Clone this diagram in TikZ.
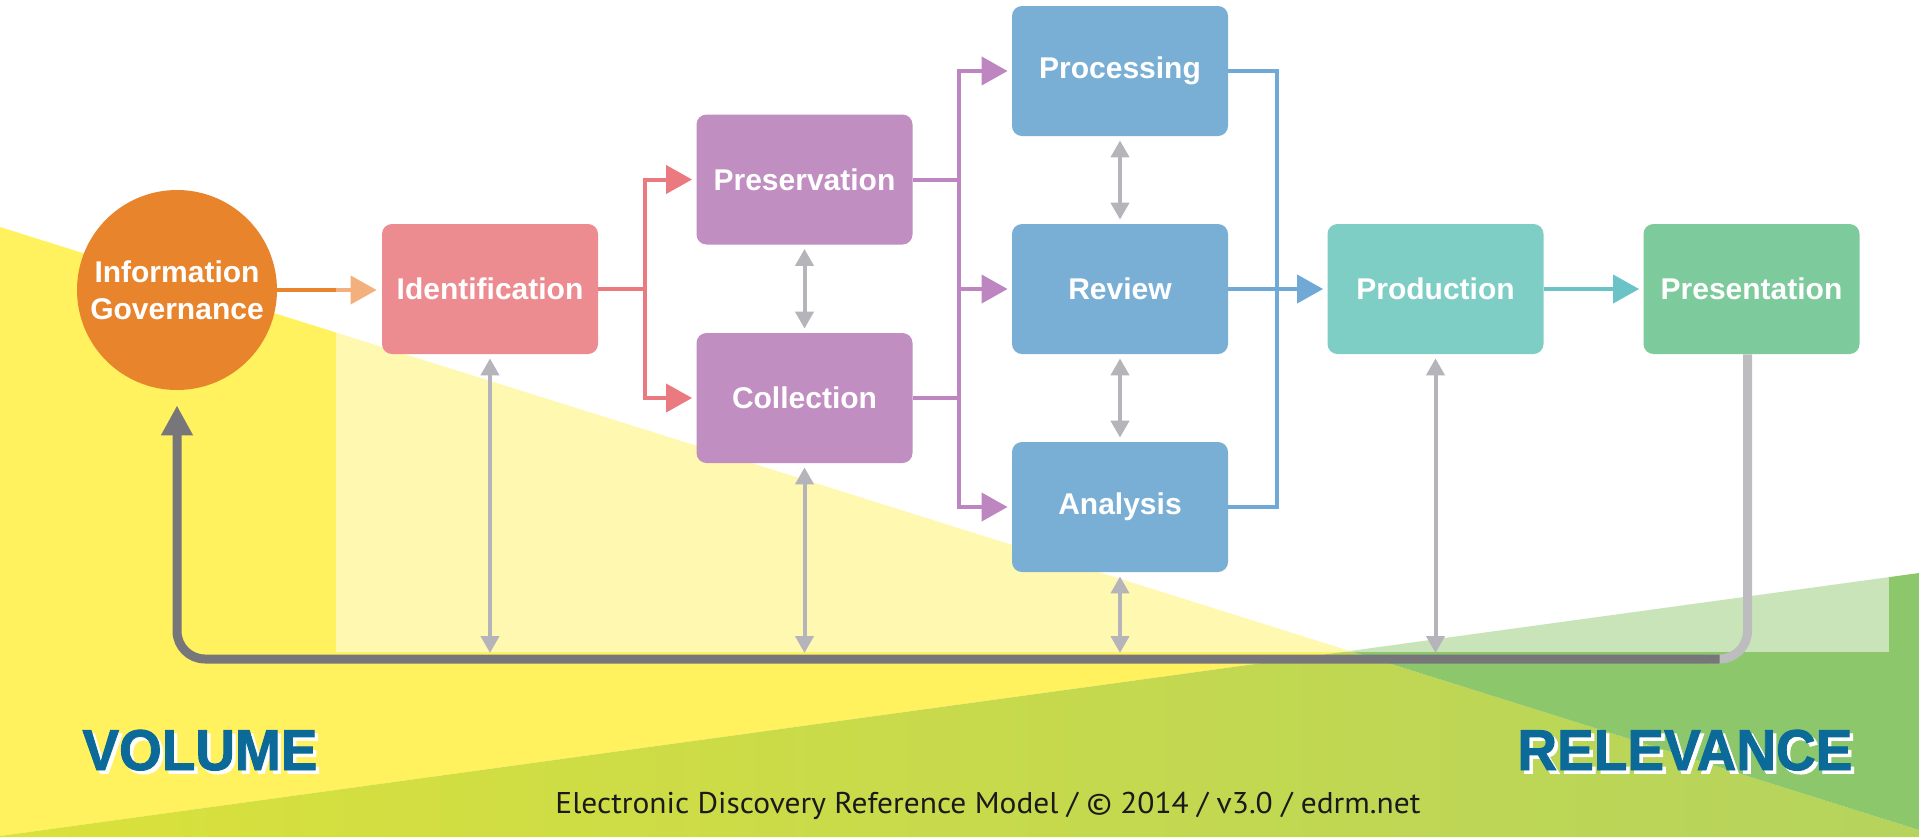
\documentclass[tikz,border=0pt]{standalone}
\usepackage{fontspec}
\setmainfont{Liberation Sans}
\newfontfamily\footfont{PT Sans}
\newfontfamily\heavyfont[BoldFeatures={FakeBold=1.6}]{Liberation Sans}
\usetikzlibrary{arrows.meta,calc}
\definecolor{orng}{HTML}{E8842C}
\definecolor{peach}{HTML}{F3B07C}
\definecolor{idc}{HTML}{EC8B90}
\definecolor{pinkc}{HTML}{EA7A80}
\definecolor{purp}{HTML}{C08EC0}
\definecolor{purpc}{HTML}{BE86C1}
\definecolor{blu}{HTML}{7AAFD5}
\definecolor{bluc}{HTML}{70A8D6}
\definecolor{tea}{HTML}{7ECEC5}
\definecolor{tealc}{HTML}{6BC3C7}
\definecolor{grnbox}{HTML}{7DCA9C}
\definecolor{grayA}{HTML}{B5B4BA}
\definecolor{loopD}{HTML}{77777B}
\definecolor{loopL}{HTML}{BDBDBF}
\definecolor{yel}{HTML}{FFF25E}
\definecolor{limeL}{HTML}{DAE13A}
\definecolor{limeR}{HTML}{B5D35D}
\definecolor{grn2}{HTML}{8DC76C}
\definecolor{vblue}{HTML}{0B6A98}
\definecolor{foot}{HTML}{1A1A1A}
\begin{document}
\begin{tikzpicture}[x=0.5pt,y=-0.5pt,
  stagebox/.style={rounded corners=5pt, minimum width=108pt, minimum height=65pt, inner sep=0pt,
    text=white, font=\fontsize{15pt}{18pt}\selectfont\bfseries},
  conn/.style={line width=2pt},
  headarrow/.style={-{Triangle[length=13pt,width=14pt]}, shorten >=2pt},
  gdbl/.style={draw=grayA, line width=2pt, {Triangle[length=8.5pt,width=9pt]}-{Triangle[length=8.5pt,width=9pt]}, shorten <=2pt, shorten >=2pt},
  looplight/.style={draw=loopL, line width=4.5pt},
  loopdark/.style={draw=loopD, line width=4.5pt},
  bigword/.style={anchor=base west, inner sep=0pt, font=\heavyfont\fontsize{28.8pt}{30pt}\selectfont\bfseries}
]
\useasboundingbox (0,0) rectangle (1919,837);
% background
\fill[white] (0,0) rectangle (1919,837);
\fill[yel] (0,227) -- (1350,651) -- (0,836) -- cycle;
\shade[left color=limeL, right color=limeR] (0,836) -- (1350,651) -- (1919,830) -- (1919,837) -- (0,837) -- cycle;
\fill[grn2] (1350,651) -- (1919,573) -- (1919,830) -- cycle;
\fill[white, opacity=0.52] (336,0) rectangle (1889,652);

% nodes
\node[circle, fill=orng, minimum size=100pt, inner sep=0pt, text=white, align=center,
  font=\fontsize{15pt}{18.5pt}\selectfont\bfseries] (ig) at (177,290) {Information\\Governance};
\node[stagebox, fill=idc] (ident) at (490,289) {Identification};
\node[stagebox, fill=purp] (pres) at (804.5,179.5) {Preservation};
\node[stagebox, fill=purp] (coll) at (804.5,398) {Collection};
\node[stagebox, fill=blu] (proc) at (1120,71) {Processing};
\node[stagebox, fill=blu] (rev) at (1120,289) {Review};
\node[stagebox, fill=blu] (ana) at (1120,507) {Analysis};
\node[stagebox, fill=tea] (prod) at (1435.5,289) {Production};
\node[stagebox, fill=grnbox] (prese) at (1751.5,289) {Presentation};

% coordinates
\coordinate (og) at (336,290);
\coordinate (pk) at (645,289);
\coordinate (pv) at (959,289);
\coordinate (bv) at (1277,289);
\coordinate (lp) at (0,659);
\coordinate (pd) at ($(prese.south)+(-4,0)$);

% orange / peach
\draw[conn, draw=orng] (ig.east) -- (og);
\draw[conn, draw=peach, headarrow, shorten >=2.5pt] (og) -- (og -| ident.west);
% pink
\draw[conn, draw=pinkc] (ident.east) -- (pk);
\draw[conn, draw=pinkc, headarrow] (pk) |- (pres.west);
\draw[conn, draw=pinkc, headarrow] (pk) |- (coll.west);
% purple
\draw[conn, draw=purpc] (pres.east) -- (pres.east -| pv);
\draw[conn, draw=purpc] (coll.east) -- (coll.east -| pv);
\draw[conn, draw=purpc, line cap=rect] (pv |- proc.west) -- (pv |- ana.west);
\draw[conn, draw=purpc, headarrow] (pv |- proc.west) -- (proc.west);
\draw[conn, draw=purpc, headarrow] (pv |- rev.west) -- (rev.west);
\draw[conn, draw=purpc, headarrow] (pv |- ana.west) -- (ana.west);
% blue
\draw[conn, draw=bluc] (proc.east) -| (bv |- ana.east) -- (ana.east);
\draw[conn, draw=bluc, headarrow] (rev.east) -- (prod.west);
% teal
\draw[conn, draw=tealc, headarrow] (prod.east) -- (prese.west);

% gray double arrows
\draw[gdbl] (pres.south) -- (coll.north);
\draw[gdbl] (proc.south) -- (rev.north);
\draw[gdbl] (rev.south) -- (ana.north);
\draw[gdbl, shorten >=3pt] (ident.south) -- (ident.south |- lp);
\draw[gdbl, shorten >=3pt] (coll.south) -- (coll.south |- lp);
\draw[gdbl, shorten >=3pt] (ana.south) -- (ana.south |- lp);
\draw[gdbl, shorten >=3pt] (prod.south) -- (prod.south |- lp);

% feedback loop
\draw[looplight, rounded corners=14pt] (pd) -- (pd |- lp) -- ++(-40,0);
\draw[loopdark, rounded corners=14pt, -{Triangle[length=15pt,width=15pt]}, shorten >=7.5pt]
  ($(pd |- lp)+(-28,0)$) -- (ig.south |- lp) -- (ig.south);

% labels
\node[bigword, text=white] (volS) at (85.5,773.5) {\resizebox{117.5pt}{\height}{VOLUME}};
\node[bigword, text=vblue] (vol) at (82,770) {\resizebox{117.5pt}{\height}{VOLUME}};
\node[bigword, text=white] (relS) at (1520.5,773.5) {\resizebox{167.5pt}{\height}{RELEVANCE}};
\node[bigword, text=vblue] (rel) at (1517,770) {\resizebox{167.5pt}{\height}{RELEVANCE}};
\node[anchor=base west, inner sep=0pt, text=foot, font=\footfont\fontsize{15pt}{18pt}\selectfont] (credit) at (555,813)
  {\resizebox{432.5pt}{\height}{Electronic Discovery Reference Model / © 2014 / v3.0 / edrm.net}};
\end{tikzpicture}
\end{document}
